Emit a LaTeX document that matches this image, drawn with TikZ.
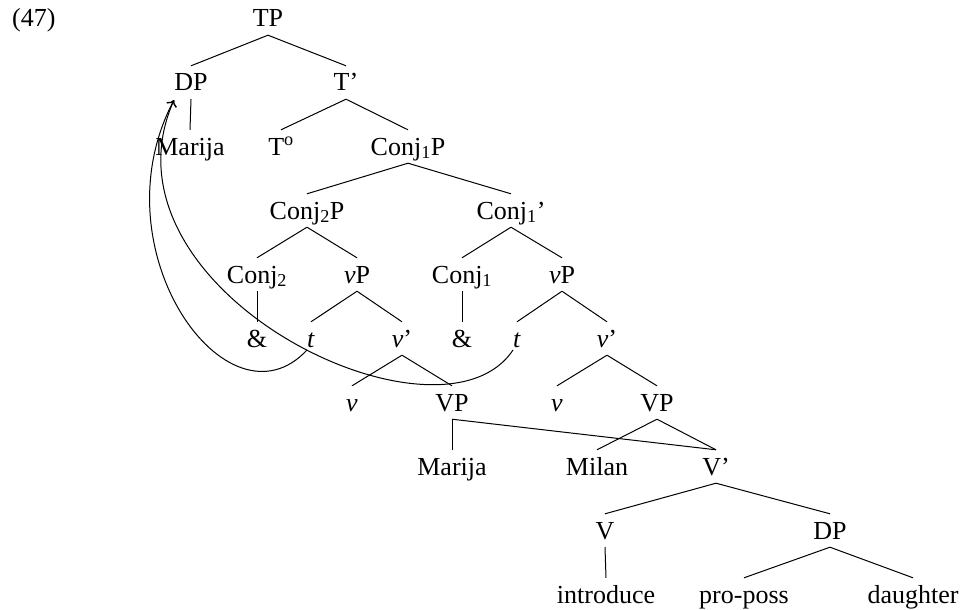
\documentclass[tikz,border=0pt]{standalone}
\usepackage{fontspec}
\setmainfont{Liberation Serif}
\usetikzlibrary{arrows.meta}
\begin{document}
\begin{tikzpicture}[x=1pt,y=-1pt,
  lab/.style={font=\fontsize{26}{30}\selectfont, inner xsep=0pt, inner ysep=7pt,
              text height=18pt, text depth=1pt, anchor=base},
  br/.style={line width=1pt},
  mv/.style={line width=1pt, -{To[length=6pt,width=11pt]}}]
\useasboundingbox (0,0) rectangle (964,610);
\node[lab, anchor=base west] (ex) at (12,27) {(47)};
% level 0
\node[lab] (tp) at (268,27) {TP};
% level 1
\node[lab] (dp) at (191,91) {DP};
\node[lab] (tbar) at (346,91) {T’};
% level 2
\node[lab] (mar1) at (190,155) {Marija};
\node[lab] (tzero) at (281,155) {T\textsuperscript{o}};
\node[lab] (c1p) at (408,155) {Conj\textsubscript{1}P};
% level 3
\node[lab] (c2p) at (307,219) {Conj\textsubscript{2}P};
\node[lab] (c1bar) at (511,219) {Conj\textsubscript{1}’};
% level 4
\node[lab] (c2) at (257,283) {Conj\textsubscript{2}};
\node[lab] (vpa) at (357,283) {\textit{v}P};
\node[lab] (c1) at (462,283) {Conj\textsubscript{1}};
\node[lab] (vpb) at (562,283) {\textit{v}P};
% level 5
\node[lab] (amp2) at (257,347) {\&};
\node[lab] (ta) at (311,347) {\textit{t}};
\node[lab] (vbara) at (402,347) {\textit{v}’};
\node[lab] (amp1) at (462,347) {\&};
\node[lab] (tb) at (517,347) {\textit{t}};
\node[lab] (vbarb) at (607,347) {\textit{v}’};
% level 6
\node[lab] (va) at (352,411) {\textit{v}};
\node[lab] (bvpa) at (452,411) {VP};
\node[lab] (vb) at (557,411) {\textit{v}};
\node[lab] (bvpb) at (657,411) {VP};
% level 7
\node[lab] (mar2) at (452,475) {Marija};
\node[lab] (milan) at (597,475) {Milan};
\node[lab] (vbar) at (716,475) {V’};
% level 8
\node[lab] (verb) at (605,539) {V};
\node[lab] (dp2) at (830,539) {DP};
% level 9
\node[lab] (intro) at (606,603) {introduce};
\node[lab] (poss) at (744,603) {pro-poss};
\node[lab] (daught) at (913,603) {daughter};
% branches
\draw[br] (tp.south) -- (dp.north);
\draw[br] (tp.south) -- (tbar.north);
\draw[br] (dp.south) -- (mar1.north);
\draw[br] (tbar.south) -- (tzero.north);
\draw[br] (tbar.south) -- (c1p.north);
\draw[br] (c1p.south) -- (c2p.north);
\draw[br] (c1p.south) -- (c1bar.north);
\draw[br] (c2p.south) -- (c2.north);
\draw[br] (c2p.south) -- (vpa.north);
\draw[br] (c1bar.south) -- (c1.north);
\draw[br] (c1bar.south) -- (vpb.north);
\draw[br] (c2.south) -- (amp2.north);
\draw[br] (vpa.south) -- (ta.north);
\draw[br] (vpa.south) -- (vbara.north);
\draw[br] (c1.south) -- (amp1.north);
\draw[br] (vpb.south) -- (tb.north);
\draw[br] (vpb.south) -- (vbarb.north);
\draw[br] (vbara.south) -- (va.north);
\draw[br] (vbara.south) -- (bvpa.north);
\draw[br] (vbarb.south) -- (vb.north);
\draw[br] (vbarb.south) -- (bvpb.north);
\draw[br] (bvpa.south) -- (mar2.north);
\draw[br] (bvpa.south) -- (vbar.north);
\draw[br] (bvpb.south) -- (milan.north);
\draw[br] (bvpb.south) -- (vbar.north);
\draw[br] (vbar.south) -- (verb.north);
\draw[br] (vbar.south) -- (dp2.north);
\draw[br] (verb.south) -- (intro.north);
\draw[br] (dp2.south) -- (poss.north);
\draw[br] (dp2.south) -- (daught.north);
% movement arrows
\coordinate (tip) at (174,100);
\draw[mv] ([xshift=-4pt,yshift=-3pt]ta.base) .. controls (228,435) and (95,250) .. (tip);
\draw[mv] ([xshift=-4pt,yshift=-3pt]tb.base) .. controls (440,460) and (90,290) .. (tip);
\end{tikzpicture}
\end{document}
